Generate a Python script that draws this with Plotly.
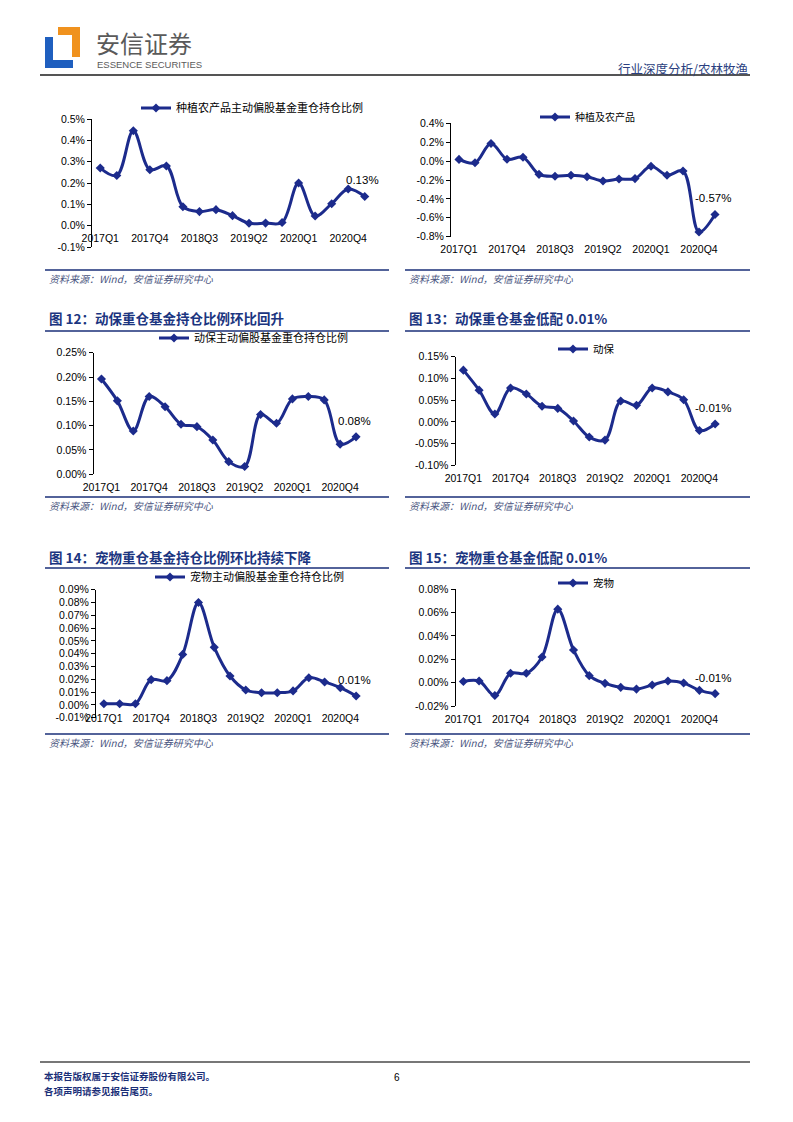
import plotly.graph_objects as go

PAGE_OFFSET = 8          # browser body margin
W, H = 793 - 2 * PAGE_OFFSET, 1122 - 2 * PAGE_OFFSET

quarters = ["2017Q1", "2017Q2", "2017Q3", "2017Q4", "2018Q1", "2018Q2", "2018Q3", "2018Q4",
            "2019Q1", "2019Q2", "2019Q3", "2019Q4", "2020Q1", "2020Q2", "2020Q3", "2020Q4", "2021Q1"]
label_quarters = ["2017Q1", "2017Q4", "2018Q3", "2019Q2", "2020Q1", "2020Q4"]

planting_holding = [0.27, 0.235, 0.445, 0.262, 0.28, 0.089, 0.066, 0.075, 0.047, 0.011, 0.012, 0.015,
                    0.2, 0.045, 0.103, 0.172, 0.137]
planting_over = [0.018, -0.018, 0.187, 0.02, 0.04, -0.14, -0.16, -0.15, -0.165, -0.21, -0.19, -0.185,
                 -0.055, -0.15, -0.105, -0.75, -0.565]
animal_holding = [0.196, 0.151, 0.089, 0.16, 0.139, 0.103, 0.098, 0.0705, 0.026, 0.016, 0.123, 0.105,
                  0.155, 0.16, 0.153, 0.062, 0.077]
animal_over = [0.119, 0.073, 0.018, 0.078, 0.064, 0.036, 0.031, 0.002, -0.035, -0.042, 0.048, 0.038,
               0.078, 0.069, 0.051, -0.02, -0.005]
pet_holding = [0.001, 0.001, 0.001, 0.0198, 0.019, 0.0395, 0.08, 0.045, 0.0226, 0.0117, 0.0096, 0.0096,
               0.011, 0.0213, 0.018, 0.0135, 0.007]
pet_over = [0.001, 0.0014, -0.011, 0.008, 0.008, 0.022, 0.063, 0.028, 0.006, -0.0006, -0.004, -0.0055,
            -0.002, 0.0014, -0.0003, -0.0066, -0.0094]

series_names = ["种植农产品主动偏股基金重仓持仓比例", "种植及农产品", "动保主动偏股基金重仓持仓比例",
                "动保", "宠物主动偏股基金重仓持仓比例", "宠物"]
end_labels = ["0.13%", "-0.57%", "0.08%", "-0.01%", "0.01%", "-0.01%"]

y1_ticks = [-0.1, 0.0, 0.1, 0.2, 0.3, 0.4, 0.5]
y1_text = ["-0.1%", "0.0%", "0.1%", "0.2%", "0.3%", "0.4%", "0.5%"]
y2_ticks = [-0.8, -0.6, -0.4, -0.2, 0.0, 0.2, 0.4]
y2_text = ["-0.8%", "-0.6%", "-0.4%", "-0.2%", "0.0%", "0.2%", "0.4%"]
y3_ticks = [0.0, 0.05, 0.10, 0.15, 0.20, 0.25]
y3_text = ["0.00%", "0.05%", "0.10%", "0.15%", "0.20%", "0.25%"]
y4_ticks = [-0.10, -0.05, 0.0, 0.05, 0.10, 0.15]
y4_text = ["-0.10%", "-0.05%", "0.00%", "0.05%", "0.10%", "0.15%"]
y5_ticks = [-0.01, 0.0, 0.01, 0.02, 0.03, 0.04, 0.05, 0.06, 0.07, 0.08, 0.09]
y5_text = ["-0.01%", "0.00%", "0.01%", "0.02%", "0.03%", "0.04%", "0.05%", "0.06%", "0.07%", "0.08%", "0.09%"]
y6_ticks = [-0.02, 0.0, 0.02, 0.04, 0.06, 0.08]
y6_text = ["-0.02%", "0.00%", "0.02%", "0.04%", "0.06%", "0.08%"]

titles = [None, None, "图 12：动保重仓基金持仓比例环比回升", "图 13：动保重仓基金低配 0.01%",
          "图 14：宠物重仓基金持仓比例环比持续下降", "图 15：宠物重仓基金低配 0.01%"]
source_text = "资料来源：Wind，安信证券研究中心"

SERIES = "#1c2b8c"
NAVY = "#1b3580"
FONT = "Liberation Sans, Arial, sans-serif"
CJK = "Noto Sans CJK SC"


def px(x):
    return (x - PAGE_OFFSET) / W


def py(y):
    return 1 - (y - PAGE_OFFSET) / H


panels = [
    dict(data=planting_holding, yt=y1_ticks, ytx=y1_text, box=(92, 373, 119, 247), lab="zero",
         leg=(176, 108, 11)),
    dict(data=planting_over, yt=y2_ticks, ytx=y2_text, box=(451, 723, 123.3, 236.7), lab="bottom",
         leg=(575, 117, 10)),
    dict(data=animal_holding, yt=y3_ticks, ytx=y3_text, box=(93.5, 364, 352.7, 474.3), lab="bottom",
         leg=(194, 338, 11)),
    dict(data=animal_over, yt=y4_ticks, ytx=y4_text, box=(455.5, 723, 356.7, 465.3), lab="bottom",
         leg=(593, 349, 10.5)),
    dict(data=pet_holding, yt=y5_ticks, ytx=y5_text, box=(96, 364, 589.7, 717.8), lab="zero",
         leg=(190, 577, 11)),
    dict(data=pet_over, yt=y6_ticks, ytx=y6_text, box=(455.5, 723, 589.3, 706), lab="bottom",
         leg=(593, 583, 10.5)),
]

fig = go.Figure()
layout = {}
annotations = []
shapes = []
idx = list(range(len(quarters)))
label_idx = [quarters.index(q) for q in label_quarters]
bounds = [i - 0.5 for i in range(len(quarters) + 1)]

for i, p in enumerate(panels, start=1):
    x0, x1, yt, yb = p["box"]
    ymin, ymax = p["yt"][0], p["yt"][-1]
    dom_y = [py(yb), py(yt)]
    zero_pos = dom_y[0] + (0 - ymin) / (ymax - ymin) * (dom_y[1] - dom_y[0])
    xa = 2 * i - 1
    xb = 2 * i
    leg_name = "legend" if i == 1 else f"legend{i}"

    fig.add_trace(go.Scatter(
        x=idx, y=p["data"], mode="lines+markers", name=series_names[i - 1],
        line=dict(color=SERIES, width=3, shape="spline", smoothing=1.0),
        marker=dict(symbol="diamond", size=7, color=SERIES),
        xaxis=f"x{xa}", yaxis=f"y{i}", legend=leg_name, showlegend=True,
        hoverinfo="skip"))

    rng = [-0.5, len(quarters) - 0.5]
    lab_axis = dict(domain=[px(x0), px(x1)], range=rng, showgrid=False, zeroline=False,
                    showline=False, tickmode="array", tickvals=label_idx, ticktext=label_quarters,
                    ticks="outside", ticklen=3, tickcolor="rgba(0,0,0,0)", automargin=False,
                    tickfont=dict(family=FONT, size=10.5, color="#000"), fixedrange=True)
    if p["lab"] == "zero":
        lab_axis.update(anchor="free", position=zero_pos)
    else:
        lab_axis.update(anchor=f"y{i}")
    layout[f"xaxis{xa}"] = lab_axis
    layout[f"xaxis{xb}"] = dict(overlaying=f"x{xa}", anchor="free", position=zero_pos, range=rng,
                                showgrid=False, zeroline=False, showline=True, linecolor="#000",
                                linewidth=1, tickmode="array", tickvals=bounds, ticks="outside",
                                ticklen=4, tickcolor="#000", showticklabels=False, fixedrange=True,
                                automargin=False)
    layout[f"yaxis{i}"] = dict(domain=dom_y, anchor=f"x{xa}", range=[ymin, ymax], showgrid=False,
                               zeroline=False, showline=True, linecolor="#000", linewidth=1,
                               tickmode="array", tickvals=p["yt"], ticktext=p["ytx"],
                               ticks="outside", ticklen=4, tickcolor="#000", automargin=False,
                               tickfont=dict(family=FONT, size=10.5, color="#000"), fixedrange=True)
    lx, ly, lf = p["leg"]
    layout[leg_name] = dict(x=px(lx - 40), y=py(ly), xanchor="left", yanchor="middle",
                            bgcolor="rgba(0,0,0,0)", borderwidth=0, itemwidth=30,
                            font=dict(family=CJK, size=lf, color="#000"))
    annotations.append(dict(x=idx[-1], y=p["data"][-1], xref=f"x{xa}", yref=f"y{i}",
                            text=end_labels[i - 1], showarrow=False, yshift=16, xshift=-2,
                            font=dict(family=FONT, size=11.5, color="#000")))

col_x = [(45, 389), (405, 750)]
source_rows = [(270, 279), (497, 506), (734, 742)]
for r, (ly, ty) in enumerate(source_rows):
    for c, (a, b) in enumerate(col_x):
        shapes.append(dict(type="line", xref="paper", yref="paper", x0=px(a), x1=px(b),
                           y0=py(ly), y1=py(ly), line=dict(color="#1a2f78", width=1.5)))
        annotations.append(dict(x=px(a + 2), y=py(ty), xref="paper", yref="paper",
                                text="<i>" + source_text + "</i>",
                                showarrow=False, xanchor="left", yanchor="middle",
                                font=dict(family=CJK, size=10, color="#4a5580")))

title_rows = [(318, 331), (557, 568)]
for r, (ty, uy) in enumerate(title_rows):
    for c, (a, b) in enumerate(col_x):
        t = titles[2 + r * 2 + c]
        shapes.append(dict(type="line", xref="paper", yref="paper", x0=px(a), x1=px(b),
                           y0=py(uy), y1=py(uy), line=dict(color="#1a2f78", width=1.5)))
        annotations.append(dict(x=px(a + 2), y=py(ty), xref="paper", yref="paper",
                                text="<b>" + t + "</b>", showarrow=False, xanchor="left",
                                yanchor="middle", font=dict(family=CJK, size=13.5, color=NAVY)))

shapes += [
    dict(type="path", xref="paper", yref="paper",
         path=f"M {px(45)} {py(37)} L {px(53)} {py(37)} L {px(53)} {py(60)} L {px(73)} {py(60)} "
              f"L {px(73)} {py(68)} L {px(45)} {py(68)} Z",
         fillcolor="#1f5fbf", line=dict(width=0)),
    dict(type="path", xref="paper", yref="paper",
         path=f"M {px(58)} {py(27)} L {px(80)} {py(27)} L {px(80)} {py(57)} L {px(72)} {py(57)} "
              f"L {px(72)} {py(35)} L {px(58)} {py(35)} Z",
         fillcolor="#f0921e", line=dict(width=0)),
    dict(type="line", xref="paper", yref="paper", x0=px(40), x1=px(750), y0=py(75), y1=py(75),
         line=dict(color="#555", width=2)),
    dict(type="line", xref="paper", yref="paper", x0=px(40), x1=px(750), y0=py(1062), y1=py(1062),
         line=dict(color="#777", width=2)),
]
annotations += [
    dict(x=px(94), y=py(42), xref="paper", yref="paper", text="安信证券", showarrow=False,
         xanchor="left", yanchor="middle", font=dict(family=CJK, size=24, color="#5a5a5a")),
    dict(x=px(95), y=py(65), xref="paper", yref="paper", text="ESSENCE SECURITIES", showarrow=False,
         xanchor="left", yanchor="middle", font=dict(family=FONT, size=9.5, color="#5a5a5a")),
    dict(x=px(750), y=py(68), xref="paper", yref="paper", text="行业深度分析/农林牧渔", showarrow=False,
         xanchor="right", yanchor="middle", font=dict(family=CJK, size=12.5, color="#2b3f80")),
    dict(x=px(42), y=py(1076), xref="paper", yref="paper", text="<b>本报告版权属于安信证券股份有限公司。</b>",
         showarrow=False, xanchor="left", yanchor="middle", font=dict(family=CJK, size=9.5, color="#1a2f78")),
    dict(x=px(42), y=py(1091), xref="paper", yref="paper", text="<b>各项声明请参见报告尾页。</b>",
         showarrow=False, xanchor="left", yanchor="middle", font=dict(family=CJK, size=9.5, color="#1a2f78")),
    dict(x=px(397), y=py(1077), xref="paper", yref="paper", text="6", showarrow=False,
         xanchor="center", yanchor="middle", font=dict(family=FONT, size=10, color="#000")),
]

fig.update_layout(width=W, height=H, margin=dict(l=0, r=0, t=0, b=0, pad=0, autoexpand=False),
                  paper_bgcolor="white", plot_bgcolor="white", annotations=annotations,
                  shapes=shapes, **layout)
fig.write_html("out.html")
